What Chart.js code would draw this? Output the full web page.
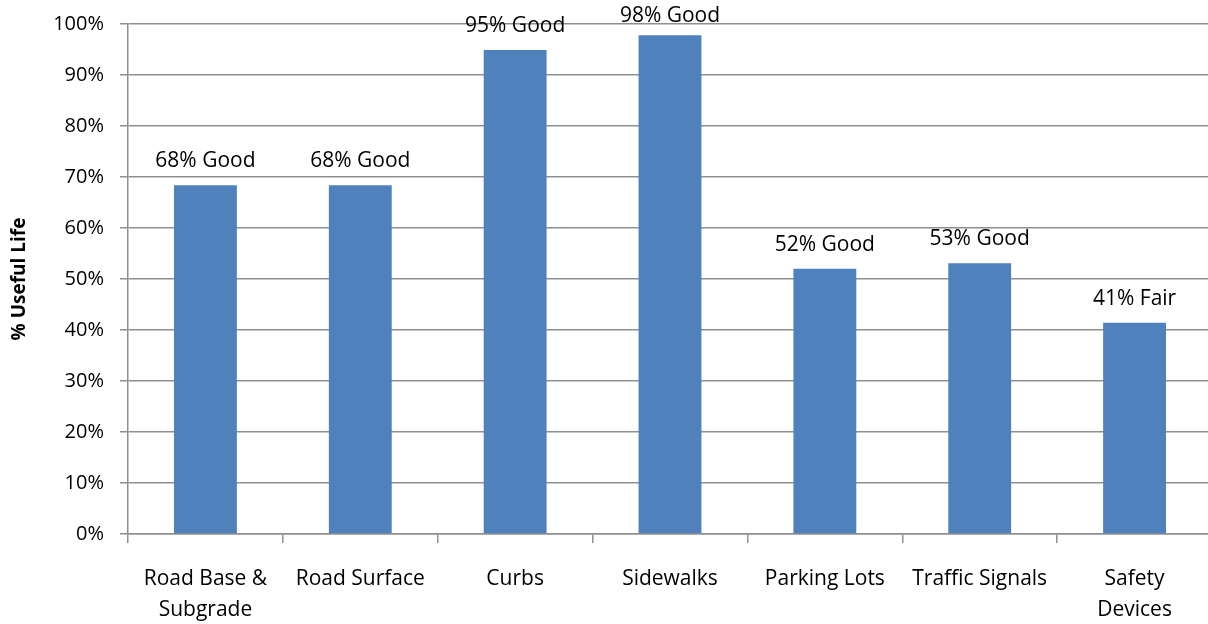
<!DOCTYPE html>
<html>
<head>
<meta charset="utf-8">
<script src="https://cdn.jsdelivr.net/npm/chart.js@4/dist/chart.umd.min.js"></script>
<style>
  html, body { margin: 0; padding: 0; background: #fff; overflow: hidden; }
  #wrap { width: 1214px; height: 624px; }
</style>
</head>
<body>
<div id="wrap"><canvas id="chart"></canvas></div>
<script>
const categories = [
  ['Road Base &', 'Subgrade'],
  'Road Surface',
  'Curbs',
  'Sidewalks',
  'Parking Lots',
  'Traffic Signals',
  ['Safety', 'Devices'],
];
const usefulLife = [68.4, 68.4, 94.9, 97.8, 52.0, 53.1, 41.4];
const conditionLabels = ['68% Good', '68% Good', '95% Good', '98% Good', '52% Good', '53% Good', '41% Fair'];

const FONT = "'Open Sans', sans-serif";
const GRID = '#8f8f8f';

// draw the condition text above each bar
const barLabels = {
  id: 'barLabels',
  afterDatasetsDraw(chart) {
    const { ctx } = chart;
    const meta = chart.getDatasetMeta(0);
    ctx.save();
    ctx.font = `21px ${FONT}`;
    ctx.fillStyle = '#000';
    ctx.textAlign = 'center';
    ctx.textBaseline = 'middle';
    meta.data.forEach((bar, i) => {
      const y = Math.max(bar.y - 24, 16);
      ctx.fillText(conditionLabels[i], bar.x, y);
    });
    ctx.restore();
  }
};

new Chart(document.getElementById('chart').getContext('2d'), {
  type: 'bar',
  data: {
    labels: categories,
    datasets: [{
      data: usefulLife,
      backgroundColor: '#4f81bd',
      barPercentage: 0.406,
      categoryPercentage: 1,
    }],
  },
  options: {
    responsive: true,
    maintainAspectRatio: false,
    animation: false,
    layout: { padding: { top: 24, right: 2, left: 0, bottom: 0 } },
    plugins: {
      legend: { display: false },
      tooltip: { enabled: false },
    },
    scales: {
      x: {
        grid: { display: true, drawOnChartArea: false, color: GRID, lineWidth: 1.5, tickLength: 9 },
        border: { color: GRID, width: 1.5 },
        ticks: { color: '#000', font: { family: FONT, size: 21, lineHeight: 1.48 }, padding: 20, maxRotation: 0, autoSkip: false },
        afterFit(scale) { scale.height = 90; },
      },
      y: {
        min: 0,
        max: 100,
        ticks: {
          stepSize: 10,
          color: '#000',
          font: { family: FONT, size: 20 },
          padding: 16,
          callback: v => v + '%',
        },
        grid: { color: GRID, lineWidth: 1.5, tickLength: 8 },
        border: { color: GRID, width: 1.5 },
        title: {
          display: true,
          text: '% Useful Life',
          color: '#000',
          font: { family: FONT, size: 19, weight: 'bold' },
          padding: { top: 8, bottom: 0 },
        },
        afterFit(scale) {
          scale.width = 128;
          scale.paddingTop = 0;
          scale.paddingBottom = 0;
        },
      },
    },
  },
  plugins: [barLabels],
});
</script>
</body>
</html>
